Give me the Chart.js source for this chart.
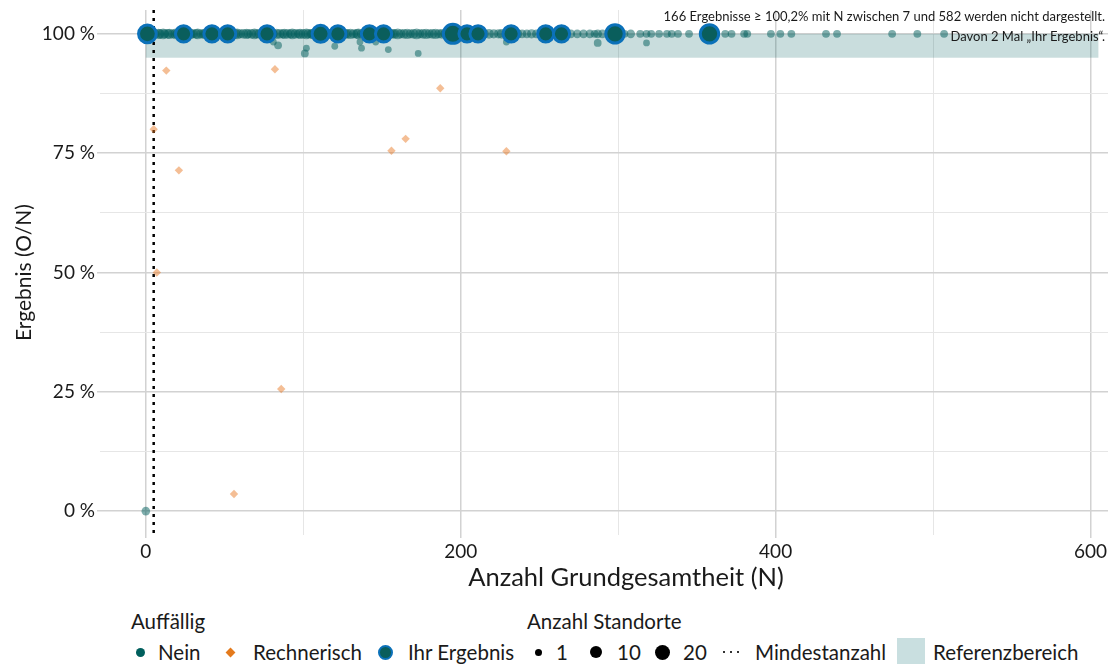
<!DOCTYPE html>
<html lang="de">
<head>
<meta charset="UTF-8">
<title>Ergebnis (O/N) nach Anzahl Grundgesamtheit</title>
<script src="https://cdn.jsdelivr.net/npm/chart.js"></script>
<style>
  body { margin: 0; background: #fff; font-family: Lato, sans-serif; color: #1a1a1a; }
  #wrap { position: relative; width: 1112px; height: 664px; overflow: hidden; }
  #box { position: absolute; left: 0; top: 0; width: 1112px; height: 600px; }
  .note { position: absolute; right: 7px; font-size: 13px; line-height: 15px; white-space: nowrap; }
  .lg { position: absolute; font-size: 20.5px; line-height: 24px; white-space: nowrap; }
  .sym { position: absolute; box-sizing: border-box; }
</style>
</head>
<body>
<div id="wrap">
  <div id="box"><canvas id="chart"></canvas></div>

  <div class="note" style="top:9px">166 Ergebnisse ≥ 100,2% mit N zwischen 7 und 582 werden nicht dargestellt.</div>
  <div class="note" style="top:29px">Davon 2 Mal „Ihr Ergebnis“.</div>

  <!-- legend -->
  <div class="lg" style="left:131px; top:609px">Auffällig</div>
  <div class="lg" style="left:527px; top:609px">Anzahl Standorte</div>

  <div class="sym" style="left:135.5px; top:647.5px; width:9px; height:9px; border-radius:50%; background:#005f5d"></div>
  <div class="lg" style="left:158px; top:640px">Nein</div>
  <div class="sym" style="left:226.5px; top:648.5px; width:7px; height:7px; background:#e47a1c; transform:rotate(45deg)"></div>
  <div class="lg" style="left:253px; top:640px">Rechnerisch</div>
  <div class="sym" style="left:377.5px; top:644.5px; width:15px; height:15px; border-radius:50%; background:#0a5e5c; border:2.5px solid #0b71b9"></div>
  <div class="lg" style="left:408px; top:640px">Ihr Ergebnis</div>

  <div class="sym" style="left:534.5px; top:648.5px; width:7px; height:7px; border-radius:50%; background:#000"></div>
  <div class="lg" style="left:556px; top:640px">1</div>
  <div class="sym" style="left:590px; top:646px; width:12px; height:12px; border-radius:50%; background:#000"></div>
  <div class="lg" style="left:617px; top:640px">10</div>
  <div class="sym" style="left:654.5px; top:644.5px; width:15px; height:15px; border-radius:50%; background:#000"></div>
  <div class="lg" style="left:683px; top:640px">20</div>

  <div class="sym" style="left:723px; top:651px; width:20px; height:1.5px; background:repeating-linear-gradient(90deg, #333 0 2px, transparent 2px 7px)"></div>
  <div class="lg" style="left:755px; top:640px">Mindestanzahl</div>
  <div class="sym" style="left:897px; top:638px; width:28px; height:26px; background:#c9dfe0"></div>
  <div class="lg" style="left:933px; top:640px">Referenzbereich</div>
</div>

<script>
// axis ticks
const xTicks = [0, 100, 200, 300, 400, 500, 600];
const xLabels = [0, 200, 400, 600];
const yTicks = [0, 12.5, 25, 37.5, 50, 62.5, 75, 87.5, 100];
const yLabels = [0, 25, 50, 75, 100];
const xTitle = 'Anzahl Grundgesamtheit (N)';

// reference band (N from/to, percent low/high) and minimum N
const refN = [0, 605];
const refPct = [95, 100];
const minN = 5;

// "Nein" results at 100 %: N and number of sites
const at100Pct = 100;
const at100N = [
  0, 2, 3, 4, 6, 8, 9, 11, 12, 14,
  15, 17, 19, 20, 22, 25, 27, 28, 30, 32,
  33, 35, 37, 38, 40, 43, 45, 46, 48, 50,
  53, 55, 57, 58, 60, 62, 64, 65, 67, 69,
  70, 72, 74, 75, 78, 80, 81, 83, 85, 87,
  88, 90, 92, 93, 95, 97, 98, 100, 102, 103,
  105, 106, 108, 110, 113, 115, 116, 118, 120, 123,
  125, 127, 128, 130, 132, 134, 135, 137, 139, 140,
  143, 145, 147, 148, 150, 153, 155, 157, 158, 160,
  162, 164, 166, 168, 170, 172, 174, 176, 178, 180,
  182, 184, 186, 188, 190, 192, 197, 199, 201, 206,
  208, 213, 215, 218, 221, 224, 226, 229, 234, 236,
  239, 242, 245, 248, 251, 257, 260, 267, 270, 274,
  278, 282, 285, 287, 290, 294, 301, 304, 308, 314,
  318, 321, 326, 331, 334, 338, 345, 368, 372, 380,
  382, 397, 403, 410, 432, 439, 474, 490, 507
];
const at100Sites = [
  9, 6, 5, 7, 4, 6, 5, 7, 4, 5,
  6, 4, 7, 5, 4, 6, 5, 8, 4, 5,
  7, 4, 6, 5, 4, 6, 5, 4, 7, 5,
  4, 6, 5, 7, 4, 5, 6, 4, 5, 7,
  4, 5, 6, 4, 5, 7, 4, 6, 5, 4,
  6, 5, 4, 7, 5, 4, 6, 5, 7, 4,
  5, 6, 4, 5, 7, 4, 5, 6, 4, 5,
  7, 4, 5, 6, 4, 5, 7, 4, 6, 5,
  4, 6, 5, 7, 4, 5, 6, 4, 5, 7,
  4, 5, 6, 4, 5, 7, 4, 5, 6, 4,
  5, 6, 4, 5, 4, 5, 4, 5, 4, 5,
  4, 5, 4, 5, 4, 4, 5, 4, 4, 5,
  3, 3, 4, 3, 3, 3, 4, 3, 3, 3,
  3, 3, 2, 3, 3, 2, 3, 2, 3, 2,
  2, 2, 2, 2, 2, 2, 2, 2, 2, 2,
  2, 2, 2, 2, 2, 2, 2, 2, 2
];

// "Nein" results below 100 %
const belowN = [0, 81, 84, 101, 102, 120, 136, 137, 146, 154, 173, 229, 287, 318];
const belowPct = [0, 98.3, 97.6, 95.9, 97.0, 97.4, 98.3, 97.0, 98.3, 96.7, 95.9, 98.3, 98.1, 98.1];
const belowSites = [3, 1, 2, 2, 1, 1, 1, 1, 1, 1, 1, 1, 2, 1];

// "Rechnerisch" auffällig
const rechN = [5, 7, 13, 21, 56, 82, 86, 156, 165, 187, 229];
const rechPct = [80, 50, 92.3, 71.4, 3.6, 92.6, 25.6, 75.5, 78.0, 88.6, 75.4];

// "Ihr Ergebnis"
const ihrN = [1, 24, 42, 52, 77, 111, 122, 142, 151, 195, 204, 211, 232, 254, 264, 298, 358];
const ihrPct = [100, 100, 100, 100, 100, 100, 100, 100, 100, 100, 100, 100, 100, 100, 100, 100, 100];
const ihrSites = [12, 8, 8, 8, 8, 10, 8, 8, 8, 16, 8, 8, 8, 8, 8, 14, 14];

// size scale for "Anzahl Standorte"
function sizeR(n) { return 2.2 + 1.2 * Math.sqrt(n); }

const neinPts = at100N.map((n, i) => ({ x: n, y: at100Pct, s: at100Sites[i] }))
  .concat(belowN.map((n, i) => ({ x: n, y: belowPct[i], s: belowSites[i] })));
const rechPts = rechN.map((n, i) => ({ x: n, y: rechPct[i] }));
const ihrPts = ihrN.map((n, i) => ({ x: n, y: ihrPct[i], s: ihrSites[i] }));

const font = 'Lato, sans-serif';

// reference band, Mindestanzahl line and x-axis title
const backdrop = {
  id: 'backdrop',
  beforeDatasetsDraw(chart) {
    const { ctx, chartArea, scales: { x, y } } = chart;
    ctx.save();
    const x0 = x.getPixelForValue(refN[0]), x1 = x.getPixelForValue(refN[1]);
    const y0 = y.getPixelForValue(refPct[1]), y1 = y.getPixelForValue(refPct[0]);
    ctx.fillStyle = 'rgba(0, 96, 94, 0.21)';
    ctx.fillRect(x0, y0, x1 - x0, y1 - y0);
    const mx = x.getPixelForValue(minN);
    ctx.strokeStyle = '#000';
    ctx.lineWidth = 2.5;
    ctx.setLineDash([3, 5]);
    ctx.beginPath();
    ctx.moveTo(mx, chartArea.top);
    ctx.lineTo(mx, chartArea.bottom);
    ctx.stroke();
    ctx.restore();
  },
  afterDraw(chart) {
    const { ctx, chartArea } = chart;
    ctx.save();
    ctx.font = '25.5px ' + font;
    ctx.fillStyle = '#1a1a1a';
    ctx.textAlign = 'center';
    ctx.textBaseline = 'middle';
    ctx.fillText(xTitle, (chartArea.left + chartArea.right) / 2 + 22, 578);
    ctx.restore();
  }
};

new Chart(document.getElementById('chart'), {
  type: 'scatter',
  data: {
    datasets: [
      {
        label: 'Ihr Ergebnis', data: ihrPts, order: 0,
        backgroundColor: '#0a5e5c', borderColor: '#0b71b9', borderWidth: 3,
        pointRadius: c => sizeR(c.raw.s) + 2.5
      },
      {
        label: 'Rechnerisch', data: rechPts, order: 1,
        pointStyle: 'rectRot', pointRadius: 4.2,
        backgroundColor: 'rgba(232, 119, 34, 0.48)', borderWidth: 0
      },
      {
        label: 'Nein', data: neinPts, order: 2,
        backgroundColor: 'rgba(0, 94, 92, 0.5)', borderWidth: 0,
        pointRadius: c => sizeR(c.raw.s)
      }
    ]
  },
  options: {
    responsive: true,
    maintainAspectRatio: false,
    animation: false,
    events: [],
    layout: { autoPadding: false, padding: { top: 10, right: 4, left: 0, bottom: 0 } },
    plugins: { legend: { display: false }, tooltip: { enabled: false } },
    scales: {
      x: {
        type: 'linear', min: -29.1, max: 611.1,
        afterBuildTicks: s => { s.ticks = xTicks.map(v => ({ value: v })); },
        afterFit: s => { s.height = 65; s.paddingLeft = 0; s.paddingRight = 0; },
        border: { display: false },
        grid: {
          color: c => xLabels.includes(c.tick.value) ? '#d2d2d2' : '#e6e6e6',
          lineWidth: c => xLabels.includes(c.tick.value) ? 1.5 : 1,
          tickColor: c => xLabels.includes(c.tick.value) ? '#d2d2d2' : 'rgba(0,0,0,0)',
          tickLength: 3
        },
        ticks: {
          autoSkip: false, maxRotation: 0, padding: 2,
          color: '#1a1a1a', font: { family: font, size: 19 },
          callback: v => xLabels.includes(v) ? String(v) : ''
        },
        title: { display: false, text: xTitle }
      },
      y: {
        type: 'linear', min: -5, max: 105,
        afterBuildTicks: s => { s.ticks = yTicks.map(v => ({ value: v })); },
        afterFit: s => { s.width = 100; s.paddingTop = 0; s.paddingBottom = 0; },
        border: { display: false },
        grid: {
          color: c => yLabels.includes(c.tick.value) ? '#d2d2d2' : '#e6e6e6',
          lineWidth: c => yLabels.includes(c.tick.value) ? 1.5 : 1,
          tickColor: c => yLabels.includes(c.tick.value) ? '#d2d2d2' : 'rgba(0,0,0,0)',
          tickLength: 3
        },
        ticks: {
          autoSkip: false, padding: 2,
          color: '#1a1a1a', font: { family: font, size: 19 },
          callback: v => yLabels.includes(v) ? v + ' %' : ''
        },
        title: {
          display: true, text: 'Ergebnis (O/N)',
          color: '#1a1a1a', font: { family: font, size: 21 },
          padding: { top: 12, bottom: 0 }
        }
      }
    }
  },
  plugins: [backdrop]
});
</script>
</body>
</html>
